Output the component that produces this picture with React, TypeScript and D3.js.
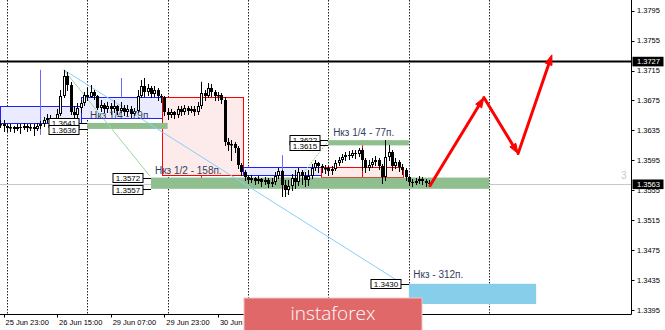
import React from 'react';
import * as d3 from 'd3';

// ---- data ----
const FIRST_INDEX = -1; // hourly bar index of first candle (0 = 25 Jun 23:00)
const firstOpen = 1.3642;
const closes = [
  1.3644, 1.3641, 1.3638, 1.3640, 1.3637, 1.3640, 1.3638, 1.3641, 1.3638, 1.3640,
  1.3637, 1.3641, 1.3643, 1.3649, 1.3652, 1.3648, 1.3644, 1.3657, 1.3681, 1.3708,
  1.3696, 1.3660, 1.3655, 1.3665, 1.3672, 1.3683, 1.3680, 1.3687, 1.3681, 1.3665,
  1.3669, 1.3663, 1.3668, 1.3664, 1.3667, 1.3661, 1.3665, 1.3660, 1.3664, 1.3657,
  1.3661, 1.3681, 1.3695, 1.3687, 1.3692, 1.3684, 1.3689, 1.3681, 1.3679, 1.3660,
  1.3656, 1.3659, 1.3655, 1.3663, 1.3660, 1.3665, 1.3661, 1.3664, 1.3660, 1.3668,
  1.3685, 1.3681, 1.3692, 1.3687, 1.3681, 1.3683, 1.3676, 1.3620, 1.3616, 1.3617,
  1.3612, 1.3589, 1.3580, 1.3573, 1.3569, 1.3572, 1.3568, 1.3570, 1.3566, 1.3569,
  1.3564, 1.3566, 1.3574, 1.3581, 1.3562, 1.3555, 1.3561, 1.3572, 1.3566, 1.3580,
  1.3574, 1.3569, 1.3574, 1.3585, 1.3592, 1.3588, 1.3585, 1.3585, 1.3581, 1.3584,
  1.3592, 1.3596, 1.3600, 1.3602, 1.3601, 1.3605, 1.3604, 1.3609, 1.3596, 1.3585,
  1.3589, 1.3593, 1.3596, 1.3588, 1.3573, 1.3600, 1.3606, 1.3588, 1.3593, 1.3586,
  1.3582, 1.3573, 1.3566, 1.3565, 1.3568, 1.3570, 1.3568, 1.3565, 1.3563,
];
const highs = [
  1.3649, 1.3649, 1.3644, 1.3643, 1.3641, 1.3644, 1.3643, 1.3645, 1.3644, 1.3644,
  1.3643, 1.3645, 1.3648, 1.3653, 1.3657, 1.3656, 1.3652, 1.3663, 1.3689, 1.3716,
  1.3713, 1.3700, 1.3668, 1.3671, 1.3676, 1.3687, 1.3692, 1.3696, 1.3689, 1.3683,
  1.3676, 1.3672, 1.3673, 1.3671, 1.3676, 1.3669, 1.3673, 1.3669, 1.3669, 1.3667,
  1.3665, 1.3689, 1.3703, 1.3705, 1.3697, 1.3695, 1.3695, 1.3692, 1.3684, 1.3681,
  1.3665, 1.3664, 1.3661, 1.3668, 1.3667, 1.3669, 1.3668, 1.3668, 1.3667, 1.3673,
  1.3700, 1.3689, 1.3699, 1.3697, 1.3689, 1.3687, 1.3685, 1.3679, 1.3625, 1.3622,
  1.3620, 1.3614, 1.3592, 1.3582, 1.3576, 1.3576, 1.3573, 1.3574, 1.3572, 1.3573,
  1.3572, 1.3572, 1.3580, 1.3585, 1.3582, 1.3569, 1.3569, 1.3577, 1.3582, 1.3585,
  1.3582, 1.3580, 1.3582, 1.3590, 1.3596, 1.3593, 1.3590, 1.3589, 1.3588, 1.3588,
  1.3596, 1.3600, 1.3604, 1.3606, 1.3608, 1.3609, 1.3609, 1.3612, 1.3612, 1.3598,
  1.3596, 1.3598, 1.3601, 1.3598, 1.3590, 1.3622, 1.3616, 1.3609, 1.3598, 1.3596,
  1.3590, 1.3585, 1.3574, 1.3570, 1.3572, 1.3574, 1.3573, 1.3570, 1.3569,
];
const lows = [
  1.3640, 1.3634, 1.3634, 1.3634, 1.3633, 1.3636, 1.3632, 1.3637, 1.3634, 1.3636,
  1.3629, 1.3636, 1.3638, 1.3641, 1.3646, 1.3644, 1.3640, 1.3644, 1.3656, 1.3680,
  1.3689, 1.3657, 1.3652, 1.3652, 1.3660, 1.3669, 1.3676, 1.3679, 1.3677, 1.3663,
  1.3661, 1.3659, 1.3660, 1.3657, 1.3660, 1.3657, 1.3659, 1.3655, 1.3656, 1.3653,
  1.3655, 1.3659, 1.3679, 1.3681, 1.3683, 1.3680, 1.3681, 1.3676, 1.3673, 1.3655,
  1.3650, 1.3653, 1.3652, 1.3653, 1.3655, 1.3657, 1.3657, 1.3659, 1.3656, 1.3657,
  1.3665, 1.3676, 1.3679, 1.3681, 1.3676, 1.3675, 1.3671, 1.3616, 1.3609, 1.3596,
  1.3606, 1.3585, 1.3576, 1.3569, 1.3565, 1.3566, 1.3564, 1.3565, 1.3561, 1.3564,
  1.3559, 1.3561, 1.3564, 1.3572, 1.3547, 1.3547, 1.3550, 1.3555, 1.3558, 1.3562,
  1.3564, 1.3561, 1.3562, 1.3572, 1.3582, 1.3580, 1.3580, 1.3578, 1.3576, 1.3577,
  1.3582, 1.3589, 1.3593, 1.3596, 1.3597, 1.3600, 1.3598, 1.3601, 1.3582, 1.3580,
  1.3582, 1.3586, 1.3589, 1.3584, 1.3565, 1.3569, 1.3596, 1.3582, 1.3585, 1.3581,
  1.3577, 1.3569, 1.3562, 1.3561, 1.3564, 1.3565, 1.3564, 1.3561, 1.3561,
];

const priceTicks = [1.3395, 1.3435, 1.3475, 1.3515, 1.3555, 1.3595, 1.3635, 1.3675, 1.3715, 1.3755, 1.3795];
const timeTickIdx = [0, 16, 32, 48, 64];
const timeTickLabels = ['25 Jun 23:00', '26 Jun 15:00', '29 Jun 07:00', '29 Jun 23:00', '30 Jun 15:00'];
const daySeparators = [1, 25, 49, 73, 97, 121, 145];

const resistanceLevel = 1.3727;
const bidPrice = 1.3563;

// session boxes
const boxStart = [-1.05, 23.1, 47.2, 71.5, 94.8];
const boxEnd = [23.1, 47.2, 71.5, 94.8, 119.3];
const boxTop = [1.3667, 1.3680, 1.3680, 1.3586, 1.3586];
const boxBottom = [1.3645, 1.3652, 1.3576, 1.3576, 1.3573];
const boxKind = ['blue', 'blue', 'red', 'blue', 'red'];
const boxLineIdx = [10.9, 35, 59, 83, 107];
const boxLineHigh = [1.3716, 1.3705, 1.3700, 1.3602, 1.3622];
const boxLineLow = [1.3629, 1.3680, 1.3566, 1.3546, 1.3559];
const boxLineUnder = [false, true, true, false, false];

// target zones
const zoneStart = [25, 44, 97, 121];
const zoneEnd = [49, 145, 121, 159];
const zoneTop = [1.3645, 1.3572, 1.3622, 1.3430];
const zoneBottom = [1.3637, 1.3557, 1.3615, 1.3403];
const zoneColor = ['#8fbf8f', '#8fbf8f', '#8fbf8f', '#87ceeb'];
const zoneLabelTop = ['1.3641', '1.3572', '1.3622', '1.3430'];
const zoneLabelBottom = ['1.3636', '1.3557', '1.3615', ''];

const noteText = ['Нкз 1/4 - 79п.', 'Нкз 1/2 - 158п.', 'Нкз 1/4 - 77п.', 'Нкз - 312п.'];
const noteIdx = [25.8, 45.2, 98.4, 122.3];
const notePrice = [1.3650, 1.3577, 1.3628, 1.3438];

const arrowIdx = [127.3, 143.4, 153.6, 163.7];
const arrowPrice = [1.3561, 1.3679, 1.3604, 1.3736];

export default function App() {
  const x = d3.scaleLinear().domain([0, 145]).range([3.5, 489.25]);
  const y = d3.scaleLinear().domain([1.3395, 1.3795]).range([310, 10.7]);
  const plotRight = 631.5;
  const plotBottom = 314.5;

  const candles = closes.map((c, k) => {
    const i = k + FIRST_INDEX;
    const o = k === 0 ? firstOpen : closes[k - 1];
    const xc = Math.round(x(i));
    const top = Math.round(y(Math.max(o, c)));
    const bot = Math.round(y(Math.min(o, c)));
    const bear = c < o;
    return (
      <g key={k}>
        <line x1={xc + 0.5} x2={xc + 0.5} y1={Math.round(y(highs[k]))} y2={Math.round(y(lows[k])) + 1} stroke="#000" strokeWidth={1} />
        {bear ? (
          <rect x={xc - 1} y={top} width={3} height={Math.max(1, bot - top)} fill="#000" />
        ) : (
          <rect x={xc - 0.5} y={top + 0.5} width={2} height={Math.max(0.5, bot - top - 1)} fill="#fff" stroke="#000" strokeWidth={1} />
        )}
      </g>
    );
  });

  const arrowPts = arrowIdx.map((d, k) => [x(d), y(arrowPrice[k])]);
  const arrowSegs = arrowPts.slice(1).map((p2, k) => {
    const p1 = arrowPts[k];
    const dx = p2[0] - p1[0];
    const dy = p2[1] - p1[1];
    const len = Math.hypot(dx, dy);
    const ux = dx / len, uy = dy / len;
    const hl = 10, hw = 3.5;
    const bx = p2[0] - ux * hl, by = p2[1] - uy * hl;
    const head = `M${p2[0]},${p2[1]} L${bx - uy * hw},${by + ux * hw} L${bx + uy * hw},${by - ux * hw} Z`;
    return (
      <g key={k}>
        <line x1={p1[0]} y1={p1[1]} x2={bx + ux * 2} y2={by + uy * 2} stroke="#ff0000" strokeWidth={3} strokeLinecap="round" />
        <path d={head} fill="#ff0000" stroke="#ff0000" strokeWidth={1} strokeLinejoin="round" />
      </g>
    );
  });

  const priceLabel = (px: number, py: number, text: string, key: string) => (
    <g key={key}>
      <rect x={px - 30.5} y={Math.round(py) - 4.5} width={30} height={9} fill="#fff" stroke="#000" strokeWidth={1} />
      <text x={px - 15.5} y={Math.round(py) + 3} fontSize={8} textAnchor="middle" fill="#000">{text}</text>
    </g>
  );

  return (
    <svg width={665} height={330} style={{ position: 'absolute', left: 0, top: 0, display: 'block', background: '#fff' }}
      fontFamily="'Liberation Sans', Arial, sans-serif">
      <rect x={0} y={0} width={665} height={330} fill="#fff" />

      {/* day separators */}
      {daySeparators.map((d) => (
        <line key={d} x1={Math.round(x(d)) + 0.5} x2={Math.round(x(d)) + 0.5} y1={0} y2={plotBottom} stroke="#222" strokeWidth={1} strokeDasharray="1.5,1.5" />
      ))}

      {/* bid line */}
      <line x1={0} x2={plotRight} y1={Math.round(y(bidPrice)) + 0.5} y2={Math.round(y(bidPrice)) + 0.5} stroke="#c8c8c8" strokeWidth={1} />
      {/* resistance */}
      <line x1={0} x2={plotRight} y1={y(resistanceLevel)} y2={y(resistanceLevel)} stroke="#000" strokeWidth={2} />

      {/* session boxes */}
      {boxStart.map((s, k) => {
        const lx = Math.round(x(boxLineIdx[k])) + 0.5;
        const col = boxKind[k] === 'blue' ? '#2020ff' : '#ff0000';
        const fill = boxKind[k] === 'blue' ? '#ebebff' : '#fdeaea';
        const vline = <line x1={lx} x2={lx} y1={y(boxLineHigh[k])} y2={y(boxLineLow[k])} stroke={boxKind[k] === 'blue' ? '#6a6aff' : '#ff0000'} strokeWidth={1} />;
        const x0 = Math.round(x(s)) + 0.5;
        const x1 = Math.round(x(boxEnd[k])) + 0.5;
        const y0 = Math.round(y(boxTop[k])) + 0.5;
        const y1 = Math.round(y(boxBottom[k])) + 0.5;
        return (
          <g key={k}>
            {boxLineUnder[k] && vline}
            <rect x={x0} y={y0} width={x1 - x0} height={y1 - y0} fill={fill} stroke={col} strokeWidth={1} />
            {!boxLineUnder[k] && vline}
          </g>
        );
      })}

      {/* zones */}
      {zoneStart.map((s, k) => {
        const x0 = x(s);
        const x1 = x(zoneEnd[k]);
        const y0 = y(zoneTop[k]);
        const y1 = y(zoneBottom[k]);
        return <rect key={k} x={x0} y={y0} width={x1 - x0} height={y1 - y0} fill={zoneColor[k]} />;
      })}

      {/* diagonal lines */}
      <line x1={x(18)} y1={y(1.3716)} x2={x(118.4)} y2={y(1.3432)} stroke="#87cefa" strokeWidth={1} />
      <line x1={x(18)} y1={y(1.3716)} x2={x(43.7)} y2={y(1.3574)} stroke="#9fd69f" strokeWidth={1} />
      <line x1={x(84)} y1={y(1.3547)} x2={x(97)} y2={y(1.3621)} stroke="#7cc47c" strokeWidth={1} strokeDasharray="1.5,1.5" />

      {/* candles */}
      {candles}

      {/* zone price labels */}
      {zoneStart.map((s, k) => {
        const x0 = Math.round(x(s));
        const yt = y(zoneTop[k]);
        const yb = y(zoneBottom[k]);
        return (
          <g key={'zl' + k}>
            <line x1={x0 - 8} x2={x0} y1={Math.round(yt) + 0.5} y2={Math.round(yt) + 0.5} stroke="#000" strokeWidth={1} />
            {zoneLabelBottom[k] && <line x1={x0 - 8} x2={x0} y1={Math.round(yb) + 0.5} y2={Math.round(yb) + 0.5} stroke="#000" strokeWidth={1} />}
            {priceLabel(x0 - 7.5, yt, zoneLabelTop[k], 't' + k)}
            {zoneLabelBottom[k] && priceLabel(x0 - 7.5, yb + 1, zoneLabelBottom[k], 'b' + k)}
          </g>
        );
      })}

      {/* notes */}
      {noteText.map((t, k) => (
        <text key={'n' + k} x={x(noteIdx[k])} y={y(notePrice[k])} fontSize={10} fill="#33405c">{t}</text>
      ))}

      {/* red forecast arrows */}
      {arrowSegs}

      <text x={621} y={179} fontSize={10} fill="#c8c8c8">3</text>

      {/* axes */}
      <line x1={plotRight} x2={plotRight} y1={0} y2={plotBottom} stroke="#000" strokeWidth={1} />
      <line x1={0} x2={plotRight} y1={plotBottom} y2={plotBottom} stroke="#000" strokeWidth={1} />
      {priceTicks.map((v) => (
        <g key={v}>
          <line x1={plotRight} x2={plotRight + 3} y1={Math.round(y(v)) + 0.5} y2={Math.round(y(v)) + 0.5} stroke="#000" />
          <text x={637} y={y(v) + 2.7} fontSize={7.5} fill="#000">{v.toFixed(4)}</text>
        </g>
      ))}
      {[resistanceLevel, bidPrice].map((v) => (
        <g key={'cur' + v}>
          <rect x={632.5} y={y(v) - 4.8} width={31} height={9.6} fill="#000" />
          <text x={637} y={y(v) + 2.7} fontSize={7.5} fill="#fff">{v.toFixed(4)}</text>
        </g>
      ))}
      {timeTickIdx.map((d, k) => (
        <g key={'t' + d}>
          <line x1={Math.round(x(d)) + 0.5} x2={Math.round(x(d)) + 0.5} y1={plotBottom} y2={plotBottom + 3} stroke="#000" />
          <text x={x(d) + 2} y={325} fontSize={7.5} fill="#000">{timeTickLabels[k]}</text>
        </g>
      ))}

      {/* watermark logo */}
      <rect x={244} y={298} width={178} height={34} fill="#e06868" stroke="#f2c4c4" strokeWidth={1} />
      <text x={333} y={320} fontSize={19} fill="#fff" textAnchor="middle" fontWeight={300}
        fontFamily="'Open Sans', 'Noto Sans', sans-serif">instaforex</text>
    </svg>
  );
}
